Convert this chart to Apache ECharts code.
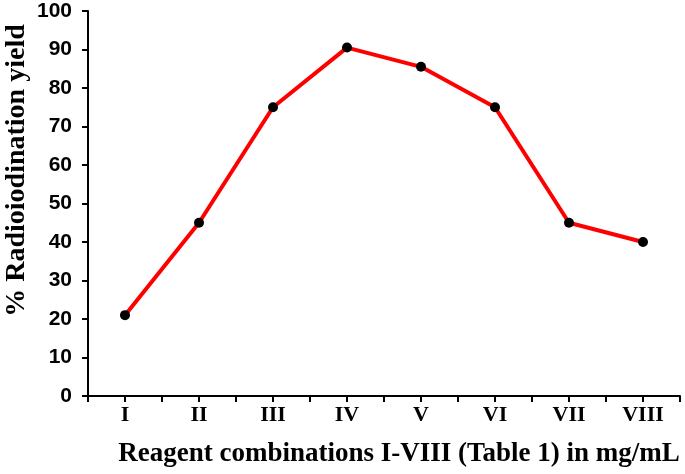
<!DOCTYPE html>
<html>
<head>
<meta charset="utf-8">
<script src="https://cdn.jsdelivr.net/npm/echarts@6/dist/echarts.min.js"></script>
<style>
  html, body { margin: 0; padding: 0; background: #fff; }
  #chart { width: 685px; height: 474px; }
</style>
</head>
<body>
<div id="chart"></div>
<script>
// reagent combinations on x
const categories = ['I', 'II', 'III', 'IV', 'V', 'VI', 'VII', 'VIII']
// radioiodination yield %
const yieldValues = [21, 45, 75, 90.5, 85.5, 75, 45, 40]
const yTicks = { min: 0, max: 100, interval: 10 }

const chart = echarts.init(document.getElementById('chart'))

const axisColor = '#000'

chart.setOption({
  animation: false,
  grid: { left: 88, right: 5, top: 11, bottom: 78, containLabel: false, outerBoundsMode: 'none' },
  xAxis: [
    {
      type: 'category',
      data: categories,
      boundaryGap: true,
      name: 'Reagent combinations I-VIII (Table 1) in mg/mL',
      nameLocation: 'middle',
      nameGap: 45,
      nameMoveOverlap: false,
      nameTextStyle: {
        fontFamily: 'Liberation Serif',
        fontWeight: 'bold',
        fontSize: 27,
        color: '#000',
        padding: [0, 0, 0, 30]
      },
      axisLine: { lineStyle: { color: axisColor, width: 2 } },
      axisTick: { show: true, length: 6, lineStyle: { color: axisColor, width: 2 } },
      axisLabel: {
        margin: 8,
        fontFamily: 'Liberation Serif',
        fontWeight: 'bold',
        fontSize: 22,
        color: '#000'
      }
    },
    {
      // second axis only for the mid-category ticks
      type: 'category',
      data: categories,
      position: 'bottom',
      axisLine: { show: false },
      axisTick: { show: true, alignWithLabel: true, length: 6, lineStyle: { color: axisColor, width: 2 } },
      axisLabel: { show: false }
    }
  ],
  yAxis: {
    type: 'value',
    min: yTicks.min,
    max: yTicks.max,
    interval: yTicks.interval,
    name: '% Radioiodination yield',
    nameLocation: 'middle',
    nameGap: 57,
    nameMoveOverlap: false,
    nameTextStyle: {
      fontFamily: 'Liberation Serif',
      fontWeight: 'bold',
      fontSize: 28,
      color: '#000',
      padding: [0, 0, 0, 66]
    },
    splitLine: { show: false },
    axisLine: { show: true, lineStyle: { color: axisColor, width: 2 } },
    axisTick: { show: true, length: 6, lineStyle: { color: axisColor, width: 2 } },
    axisLabel: {
      margin: 16,
      fontFamily: 'Liberation Sans',
      fontWeight: 'bold',
      fontSize: 21,
      color: '#000'
    }
  },
  series: [
    {
      type: 'line',
      data: yieldValues,
      xAxisIndex: 0,
      symbol: 'circle',
      symbolSize: 10,
      lineStyle: { color: '#ff0000', width: 4 },
      itemStyle: { color: '#000' }
    }
  ]
})
</script>
</body>
</html>
